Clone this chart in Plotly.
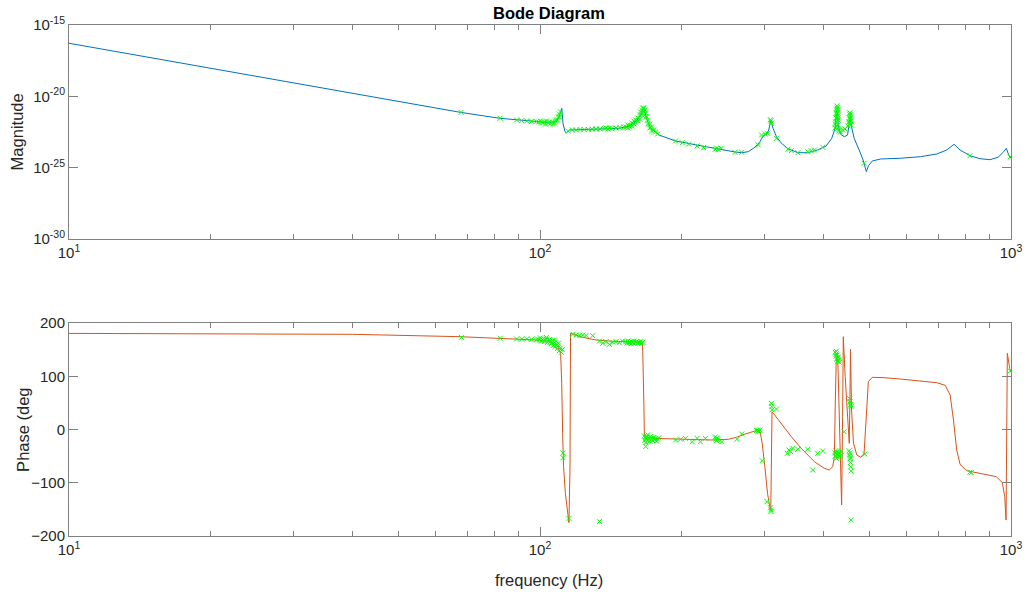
import plotly.graph_objects as go

# ---------------- data ----------------
mag_line_freq = [10, 20, 40, 67.7, 82.2, 89.2, 98.3, 104.7, 108.3, 110.1, 111.2, 111.9, 113.0, 113.7,
                 115.6, 125.3, 135.9, 147.3, 154.6, 159.7, 163.7, 166.1, 168.3, 171.8, 178.9, 194.0,
                 220.8, 235.5, 259.5, 268.1, 276.8, 285.9, 293.0, 297.7, 302.6, 306.0, 309.0, 312.5,
                 317.7, 325.5, 336.1, 352.8, 370.4, 388.9, 405.1, 416.3, 423.2, 426.5, 430.0, 434.2,
                 442.6, 449.8, 453.5, 455.7, 458.6, 464.5, 475.9, 485.3, 493.1, 497.9, 507.6, 528.8,
                 582.6, 642.2, 696.0, 730.6, 757.2, 779.6, 818.4, 859.0, 901.8, 938.9, 965.2, 977.5,
                 988.8, 996.6, 1000]
mag_line_val = [5.25e-17, 9.3e-19, 1.62e-20, 7.6e-22, 2.88e-22, 2.19e-22, 1.70e-22, 1.45e-22, 1.70e-22,
                4.9e-22, 1.45e-21, 1.29e-22, 3.31e-23, 2.82e-23, 4.37e-23, 4.9e-23, 5.37e-23, 5.75e-23,
                8.32e-23, 1.70e-22, 4.9e-22, 1.62e-21, 2.88e-22, 5.75e-23, 1.95e-23, 7.41e-24, 3.31e-24,
                2.19e-24, 1.26e-24, 1.12e-24, 1.32e-24, 2.69e-24, 6.61e-24, 1.66e-23, 2.29e-23, 4.37e-23,
                2.19e-22, 5.75e-23, 1.48e-23, 5.13e-24, 2.14e-24, 1.12e-24, 1.12e-24, 1.74e-24, 3.31e-24,
                1.15e-23, 5.75e-23, 1.10e-21, 9.77e-23, 2.29e-23, 1.48e-23, 1.95e-23, 9.77e-23, 3.98e-22,
                7.41e-23, 1.15e-23, 1.74e-24, 3.47e-25, 5.25e-26, 1.32e-25, 2.95e-25, 4.07e-25, 4.57e-25,
                5.89e-25, 9.12e-25, 1.74e-24, 4.37e-24, 1.74e-24, 6.92e-25, 4.27e-25, 3.63e-25, 5.37e-25,
                1.32e-24, 2.29e-24, 7.76e-25, 5.01e-25, 4.6e-25]

phase_line_freq = [10, 40, 67.7, 81.0, 89.2, 98.3, 104.9, 109.2, 110.6, 111.2, 111.7, 112.2, 113.2, 114.1,
                   115.2, 115.8, 116.1, 117.5, 123.3, 131.5, 142.7, 154.6, 165.1, 166.1, 166.6, 173.2,
                   197.1, 231.7, 251.2, 261.5, 272.5, 285.9, 290.6, 293.4, 296.3, 300.2, 304.1, 307.5,
                   309.0, 310.0, 310.9, 315.0, 325.5, 341.7, 358.6, 382.5, 401.7, 411.5, 418.2, 421.7,
                   423.7, 425.8, 428.5, 431.5, 434.2, 436.9, 439.0, 440.5, 444.6, 449.8, 453.5, 455.0,
                   456.3, 458.6, 463.0, 470.6, 479.9, 487.6, 493.1, 497.9, 507.6, 537.3, 582.6, 642.2,
                   696.0, 725.0, 742.7, 754.8, 766.9, 779.6, 805.0, 873.0, 931.1, 958.7, 969.8, 976.1,
                   979.3, 982.2, 993.6, 1000]
phase_line_val = [180.5, 178.8, 174.3, 171.2, 170, 168.1, 164.9, 155.5, 143, 86.8, -7.1, -69.9, -119.8,
                  -151.2, -175, -69.9, 180.6, 178.8, 173.1, 168.1, 165.6, 164.9, 163.7, 55.4, -13.5,
                  -16.6, -18.4, -19.7, -18.4, -14.5, -8.5, -2.8, -0.9, -4.1, -25.9, -69.9, -119.8, -145,
                  -152.5, -57.3, 33.4, 27.2, 10.3, -13.5, -35.3, -60.5, -72.9, -76.1, -69.9, -51.1, 55.4,
                  139.9, 143.1, 55.4, -57.3, -141.8, 24, 174.3, 99.2, 30.4, -25.9, 55.4, 150.6, 36.6,
                  -25.9, -47.9, -52.2, -44.7, 42.8, 89.8, 98, 97.3, 94.8, 91.7, 87.9, 83, 64.8, 17.8,
                  -38.5, -65.4, -77.4, -83.6, -88.6, -99.9, -126.2, -170, -7.1, 143.1, 114.9, 108]

mag_meas_freq = [68.0, 82.3, 89.2, 91.4, 93.7, 96.0, 98.3,
                 99.3, 100.2, 101.2, 102.2, 103.2, 104.2, 105.2, 106.2, 107.3, 107.8, 108.3, 108.9,
                 109.4, 109.9, 110.5, 100.7, 102.7, 104.7, 106.8, 110.0,
                 114.8, 117.1, 119.4, 121.7, 124.1, 126.6, 129.0, 131.5, 134.1, 136.8, 138.1, 139.4,
                 140.8, 142.1, 145.0, 147.8, 150.7,
                 152.2, 153.6, 155.1, 156.6, 158.2, 159.7, 161.3, 162.8, 163.6, 164.4, 165.2, 166.1,
                 166.9, 167.7, 168.5, 169.3, 171.0, 172.6, 174.3, 176.0, 177.7, 159.7, 161.3, 162.8,
                 164.4, 166.1, 167.7, 169.3, 171.0, 172.6, 158.2, 156.6, 155.1, 153.6,
                 194.0, 200.4, 206.9, 215.5, 222.5, 235.5, 239.3, 237.4, 242.4, 259.5, 268.1, 290.6,
                 295.4, 300.2, 304.1, 309.0, 310.0, 308.5, 317.7, 336.1, 341.7, 352.8, 370.4, 376.5,
                 382.5, 398.4,
                 423.2, 424.2, 425.1, 425.8, 426.5, 427.2, 427.9, 428.5, 429.3, 430.0, 430.6, 425.8,
                 427.9, 432.1, 434.2, 426.8, 428.9, 423.7, 430.0, 426.8,
                 439.0, 444.0,
                 451.1, 452.7, 454.1, 455.0, 455.7, 456.3, 457.2, 457.8, 453.5, 455.7, 454.5,
                 487.6, 818.4, 996.6]
mag_meas_val = [7.6e-22, 2.9e-22, 2.2e-22, 1.97e-22, 1.87e-22, 1.79e-22, 1.67e-22,
                1.60e-22, 1.87e-22, 1.36e-22, 1.60e-22, 1.87e-22, 1.36e-22, 1.15e-22, 1.60e-22, 1.36e-22,
                1.87e-22, 2.2e-22, 2.2e-22, 3.57e-22, 5.8e-22, 8.0e-22, 1.60e-22, 1.15e-22, 1.60e-22,
                1.15e-22, 3.57e-22,
                3.73e-23, 4.39e-23, 4.39e-23, 4.75e-23, 4.75e-23, 4.75e-23, 5.15e-23, 5.15e-23, 5.15e-23,
                5.58e-23, 6.05e-23, 5.15e-23, 6.05e-23, 5.58e-23, 6.05e-23, 6.56e-23, 7.11e-23,
                7.11e-23, 9.8e-23, 9.8e-23, 1.36e-22, 1.87e-22, 2.2e-22, 3.04e-22, 4.93e-22, 8.0e-22,
                1.10e-21, 1.53e-21, 1.53e-21, 1.10e-21, 6.8e-22, 3.57e-22, 2.2e-22, 1.15e-22, 7.11e-23,
                4.39e-23, 3.18e-23, 2.30e-23, 1.36e-22, 1.87e-22, 2.59e-22, 4.93e-22, 8.0e-22, 3.57e-22,
                1.15e-22, 6.05e-23, 3.73e-23, 1.15e-22, 8.35e-23, 7.11e-23, 6.05e-23,
                7.43e-24, 5.65e-24, 4.58e-24, 3.32e-24, 2.52e-24, 1.95e-24, 1.95e-24, 2.29e-24, 2.29e-24,
                1.20e-24, 1.20e-24, 3.90e-24, 1.96e-23, 2.30e-23, 2.58e-23, 1.87e-22, 1.29e-22, 2.3e-22,
                1.15e-23, 1.95e-24, 1.55e-24, 1.12e-24, 1.32e-24, 1.55e-24, 1.74e-24, 2.69e-24,
                6.05e-23, 1.60e-22, 3.04e-22, 6.8e-22, 1.10e-21, 1.53e-21, 6.8e-22, 4.20e-22, 2.2e-22,
                9.8e-23, 4.39e-23, 8.35e-23, 5.15e-23, 3.73e-23, 3.18e-23, 5.8e-22, 3.04e-22, 1.15e-22,
                1.10e-21, 2.11e-21,
                4.39e-23, 5.15e-23,
                8.35e-23, 1.60e-22, 3.04e-22, 4.93e-22, 6.8e-22, 3.57e-22, 1.87e-22, 9.8e-23, 1.15e-22,
                2.59e-22, 6.8e-22,
                2.03e-25, 6.93e-25, 5.90e-25]

phase_meas_freq = [68.1, 82.3, 89.2, 91.4, 93.7, 96.0, 98.3,
                   98.8, 99.8, 100.2, 100.7, 101.2, 101.7, 102.2, 102.7, 103.2, 103.7, 104.2, 104.7,
                   105.2, 105.7, 106.3, 106.8, 107.3, 107.8, 108.3, 108.9, 109.4, 109.9, 110.5, 111.0,
                   111.5, 109.4, 107.3, 103.2,
                   111.9, 111.9, 115.2, 133.7,
                   117.5, 119.4, 121.4, 123.3, 125.3, 129.4,
                   133.7, 135.9, 138.1, 140.4, 142.7, 145.0, 147.3, 149.7,
                   152.2, 152.9, 153.6, 154.4, 155.1, 155.9, 156.6, 157.4, 158.2, 158.9, 159.7, 160.5,
                   161.3, 162.0, 162.8, 163.6, 164.4, 165.2,
                   166.5, 166.9, 167.3, 167.7, 168.1, 168.5, 169.3, 170.2, 171.0, 171.8, 172.6, 173.5,
                   174.3, 175.2, 176.0, 176.9, 177.7, 178.6, 167.7, 169.3,
                   194.0, 198.8, 203.6, 210.4, 215.6, 219.1, 224.5,
                   235.5, 236.3, 237.0, 237.8, 238.6, 243.4, 261.9, 268.1,
                   288.3, 289.7, 290.5, 291.5, 292.9, 296.2, 303.5, 308.5, 309.0, 309.5, 310.0, 310.4,
                   310.9, 317.6,
                   335.1, 337.7, 340.5, 344.3, 352.7, 370.3, 379.4, 388.7, 398.3,
                   423.6, 424.6, 425.6, 426.7, 427.7, 428.8, 429.8, 430.8, 431.9, 425.6, 427.7,
                   422.5, 423.6, 424.6, 425.6, 426.7, 427.7, 428.8, 429.8, 431.9, 434.0, 435.5,
                   442.4, 454.4, 455.5, 456.6, 457.7,
                   453.3, 454.4, 455.5, 456.1, 457.0, 457.7, 454.8, 456.1, 457.0,
                   489.2, 818.1, 823.3, 996.3]
phase_meas_val = [173.1, 171.3, 170, 170, 170, 169.5, 168,
                  170, 168, 172, 166, 169, 171, 165, 168, 170, 163, 166, 169,
                  164, 161, 167, 158, 163, 155, 160, 152, 157, 148, 153, 145,
                  150, 162, 168, 173,
                  -44, -53, -167, -173,
                  178.8, 177.5, 177, 177, 176.5, 176.2,
                  166, 162, 165, 160, 164, 165, 163, 166,
                  165, 162, 166, 163, 164, 161, 165, 163, 166, 162, 164, 165,
                  162, 164, 163, 165, 162, 164,
                  -12, -20, -15, -32, -18, -14, -20, -16, -22, -13, -18, -21,
                  -15, -19, -17, -22, -18, -16, -25, -10,
                  -19.7, -18.4, -16.6, -22.9, -16.6, -22.9, -16.6,
                  -14, -18, -21, -16, -19, -22.9, -18.4, -8.5,
                  -2, -1, -3, -4, -1, -58.6, -135.6, -147, -151, -154, 49, 43,
                  37, 38.5,
                  -44.7, -38.5, -41.7, -35.3, -37.2, -37.2, -76.1, -44.7, -40.4,
                  145, 138, 142, 132, 140, 128, 136, 130, 126, 147, 134,
                  -44, -50, -40, -54, -46, -42, -52, -48, -44, -50, -41,
                  -4.1, 58, 52, 47, 43,
                  -40, -48, -55, -62, -70, -78, -44, -52, -170,
                  -46, -80.2, -81, 110]

x_tickvals = [10, 100, 1000]
x_ticktext = ["10<sup>1</sup>", "10<sup>2</sup>", "10<sup>3</sup>"]
x_minor = [20, 30, 40, 50, 60, 70, 80, 90, 200, 300, 400, 500, 600, 700, 800, 900]
mag_tickvals = [1e-30, 1e-25, 1e-20, 1e-15]
mag_ticktext = ["10<sup>-30</sup>", "10<sup>-25</sup>", "10<sup>-20</sup>", "10<sup>-15</sup>"]
phase_tickvals = [-200, -100, 0, 100, 200]

# ---------------- figure ----------------
FONT = "Liberation Sans, Arial, Helvetica, sans-serif"
AX = "#808080"
TXT = "#262626"

fig = go.Figure()
fig.add_trace(go.Scatter(x=mag_line_freq, y=mag_line_val, mode="lines",
                         line=dict(color="#0072BD", width=1), xaxis="x", yaxis="y",
                         showlegend=False, hoverinfo="skip"))
fig.add_trace(go.Scatter(x=mag_meas_freq, y=mag_meas_val, mode="markers",
                         marker=dict(symbol="x-thin", size=5, line=dict(color="#00FF00", width=1)),
                         xaxis="x", yaxis="y", showlegend=False))
fig.add_trace(go.Scatter(x=phase_line_freq, y=phase_line_val, mode="lines",
                         line=dict(color="#D95319", width=1), xaxis="x2", yaxis="y2",
                         showlegend=False, hoverinfo="skip"))
fig.add_trace(go.Scatter(x=phase_meas_freq, y=phase_meas_val, mode="markers",
                         marker=dict(symbol="x-thin", size=5, line=dict(color="#00FF00", width=1)),
                         xaxis="x2", yaxis="y2", showlegend=False))

top_dom = [0.5812, 1.0]
bot_dom = [0.0, 0.4168]

xcommon = dict(type="log", range=[1, 3], tickmode="array", tickvals=x_tickvals, ticktext=x_ticktext,
               ticks="inside", ticklen=9, tickwidth=1, tickcolor=AX, showline=True, linecolor=AX,
               linewidth=1, mirror="ticks", showgrid=False, zeroline=False,
               tickfont=dict(family=FONT, size=15, color=TXT),
               minor=dict(tickmode="array", tickvals=x_minor, ticks="inside", ticklen=5,
                          tickcolor=AX, tickwidth=1, showgrid=False))

fig.update_layout(
    width=1034, height=592,
    margin=dict(l=69, r=16, t=25, b=56),
    paper_bgcolor="white", plot_bgcolor="white",
    font=dict(family=FONT, color=TXT),
    xaxis=dict(domain=[0, 1], anchor="y", **xcommon),
    xaxis2=dict(domain=[0, 1], anchor="y2", **xcommon),
    yaxis=dict(domain=top_dom, anchor="x", type="log", range=[-30, -15], tickmode="array",
               tickvals=mag_tickvals, ticktext=mag_ticktext, ticks="inside", ticklen=9,
               tickcolor=AX, showline=True, linecolor=AX, linewidth=1, mirror="ticks",
               showgrid=False, zeroline=False, tickfont=dict(family=FONT, size=15, color=TXT)),
    yaxis2=dict(domain=bot_dom, anchor="x2", range=[-200, 200], tickmode="array",
                tickvals=phase_tickvals, ticks="inside", ticklen=9, tickcolor=AX, showline=True,
                linecolor=AX, linewidth=1, mirror="ticks", showgrid=False, zeroline=False,
                tickfont=dict(family=FONT, size=15, color=TXT)),
    annotations=[
        dict(text="<b>Bode Diagram</b>", xref="paper", yref="paper", x=0.51, y=1.0235,
             xanchor="center", yanchor="middle", showarrow=False,
             font=dict(family=FONT, size=16.5, color="#000000")),
        dict(text="frequency (Hz)", xref="paper", yref="paper", x=0.51, y=-0.0861,
             xanchor="center", yanchor="middle", showarrow=False,
             font=dict(family=FONT, size=16.5, color=TXT)),
        dict(text="Magnitude", xref="paper", yref="paper", x=-0.0548, y=0.7906,
             xanchor="center", yanchor="middle", textangle=-90, showarrow=False,
             font=dict(family=FONT, size=16.5, color=TXT)),
        dict(text="Phase (deg", xref="paper", yref="paper", x=-0.0495, y=0.2084,
             xanchor="center", yanchor="middle", textangle=-90, showarrow=False,
             font=dict(family=FONT, size=16.5, color=TXT)),
    ],
)

fig.write_html("out.html", config={"displayModeBar": False},
               post_script="document.body.style.margin='0';document.body.style.overflow='hidden';")
